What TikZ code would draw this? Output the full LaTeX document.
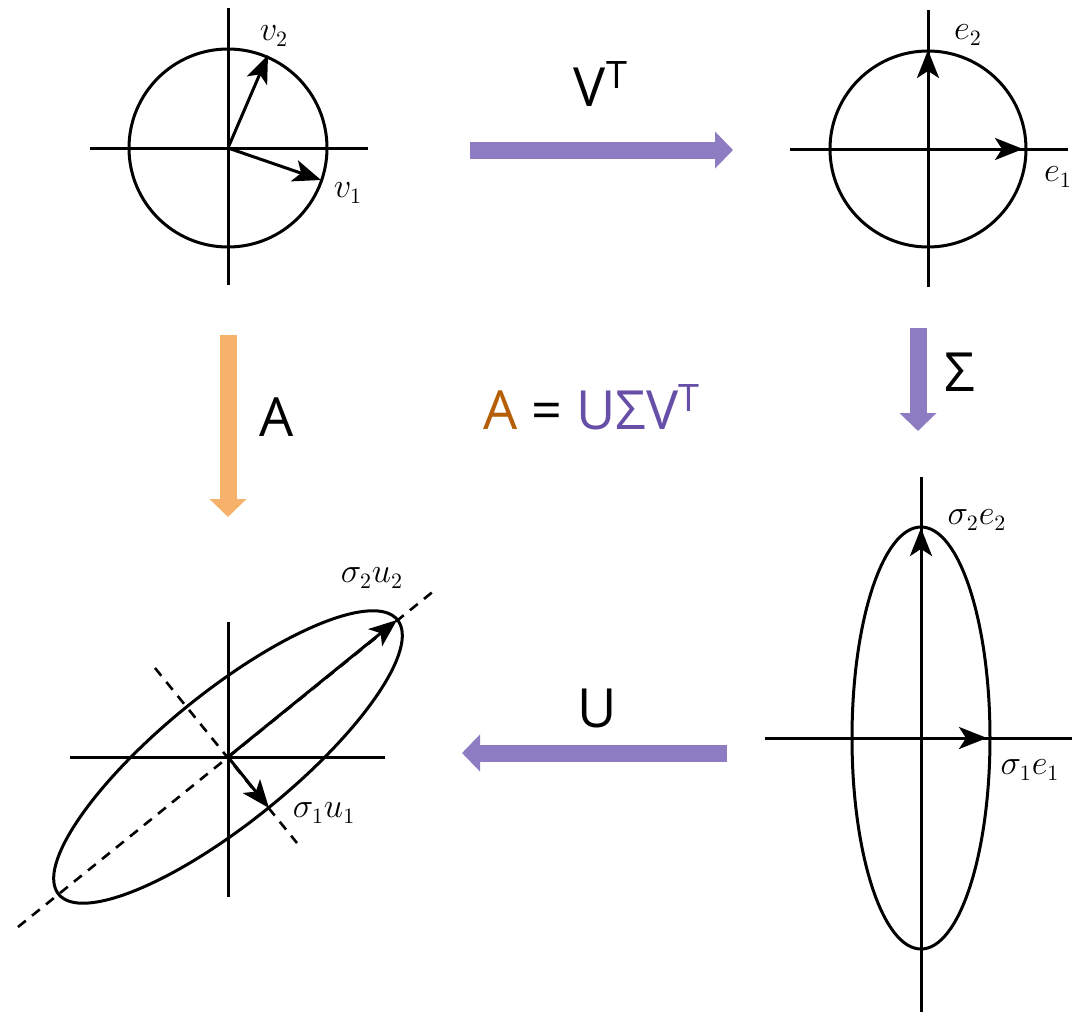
\documentclass[tikz,border=0pt]{standalone}
\usepackage{fontspec}
\setmainfont{Open Sans}
\usetikzlibrary{arrows.meta,positioning}
\definecolor{mappurple}{RGB}{142,124,195}
\definecolor{maporange}{RGB}{246,178,107}
\definecolor{eqorange}{RGB}{180,95,6}
\definecolor{eqpurple}{RGB}{103,78,167}

\begin{document}
\begin{tikzpicture}[x=0.5pt,y=-0.5pt,
    axis/.style={line width=1.5pt},
    curve/.style={line width=1.5pt},
    vec/.style={line width=1.5pt,-{Stealth[length=14pt,width=11pt,inset=3.5pt]}},
    dashaxis/.style={line width=1.3pt,dash pattern=on 5pt off 4pt},
    fatarrow/.style={line width=8.5pt,-{Triangle[width=18pt,length=9pt]}},
    mlabel/.style={font=\fontsize{16}{18}\selectfont},
    blabel/.style={font=\fontsize{27}{30}\selectfont}
  ]
    \useasboundingbox (0,0) rectangle (1072,1012);

    % top left: unit circle with v1, v2
    \coordinate (o1) at (228,148);
    \draw[axis] (90,148) -- (368,148);
    \draw[axis] (228,8) -- (228,285);
    \draw[curve] (o1) circle [radius=99];
    \draw[vec] (o1) -- (268,55);
    \draw[vec] (o1) -- (321,180);
    \node[mlabel] (v2) at (274,36) {$v_2$};
    \node[mlabel] (v1) at (348,193) {$v_1$};

    % top right: unit circle with e1, e2
    \coordinate (o2) at (928,149);
    \draw[axis] (790,149) -- (1068,149);
    \draw[axis] (928,10) -- (928,287);
    \draw[curve] (o2) circle [radius=98];
    \draw[vec] (o2) -- (928,50);
    \draw[vec] (o2) -- (1023,149);
    \node[mlabel] (e2) at (968,35) {$e_2$};
    \node[mlabel] (e1) at (1058,177) {$e_1$};

    % bottom right: stretched by sigma
    \coordinate (o3) at (921,738);
    \draw[axis] (765,738) -- (1072,738);
    \draw[axis] (921,477) -- (921,1012);
    \draw[curve] (o3) ellipse [x radius=69, y radius=211];
    \draw[vec] (o3) -- (921,528);
    \draw[vec] (o3) -- (987,738);
    \node[mlabel] (s2e2) at (977,520) {$\sigma_2 e_2$};
    \node[mlabel] (s1e1) at (1030,770) {$\sigma_1 e_1$};

    % bottom left: rotated ellipse
    \coordinate (o4) at (228,757);
    \draw[axis] (70,757) -- (385,757);
    \draw[axis] (228,622) -- (228,897);
    \draw[dashaxis] (18,927) -- (435,590);
    \draw[dashaxis] (155,668) -- (297,843);
    \draw[curve,rotate around={39:(o4)}] (o4) ellipse [x radius=218, y radius=65];
    \draw[vec] (o4) -- (397,620);
    \draw[vec] (o4) -- (269,808);
    \node[mlabel] (s2u2) at (372,578) {$\sigma_2 u_2$};
    \node[mlabel] (s1u1) at (324,813) {$\sigma_1 u_1$};

    % maps between the panels
    \coordinate (vt-a) at (470,150);
    \coordinate (vt-b) at (733,150);
    \coordinate (sg-a) at (918,328);
    \coordinate (sg-b) at (918,431);
    \coordinate (u-a) at (727,753);
    \coordinate (u-b) at (462,753);
    \coordinate (a-a) at (228,335);
    \coordinate (a-b) at (228,517);
    \draw[fatarrow,mappurple] (vt-a) -- (vt-b);
    \draw[fatarrow,mappurple] (sg-a) -- (sg-b);
    \draw[fatarrow,mappurple] (u-a) -- (u-b);
    \draw[fatarrow,maporange] (a-a) -- (a-b);
    \node[blabel] (vt) at (601,84) {V\textsuperscript{T}};
    \node[blabel] (sg) at (960,372) {Σ};
    \node[blabel] (u) at (597,708) {U};
    \node[blabel] (a) at (277,417) {A};

    \node[blabel] (eq) at (592,407) {\textcolor{eqorange}{A} = \textcolor{eqpurple}{UΣV\textsuperscript{T}}};
\end{tikzpicture}
\end{document}
